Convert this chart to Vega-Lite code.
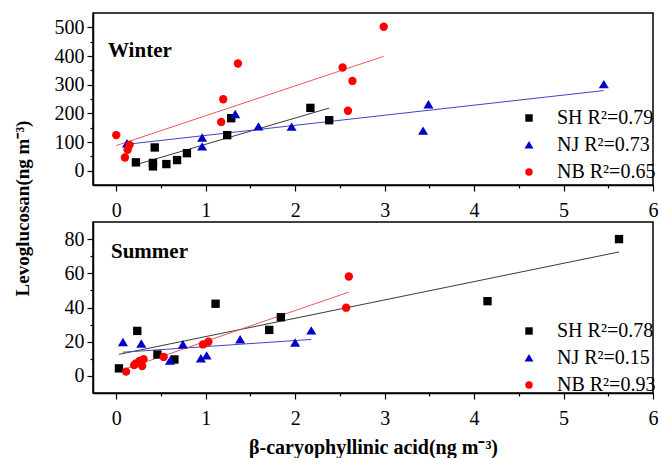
{
  "$schema": "https://vega.github.io/schema/vega-lite/v6.json",
  "padding": {"left": 12, "top": 12, "right": 5, "bottom": 2},
  "bounds": "flush",
  "spacing": 37,
  "config": {
    "font": "Liberation Serif",
    "view": {"stroke": "#000000", "strokeWidth": 1.5},
    "axis": {"domainColor": "#000000", "domainWidth": 1.5, "tickColor": "#000000", "tickWidth": 1.2, "labelFont": "Liberation Serif", "labelFontSize": 20, "labelColor": "#000000", "grid": false, "titleFont": "Liberation Serif", "titleFontSize": 20, "titleFontWeight": "bold", "titleColor": "#000000", "labelOverlap": false, "labelFlush": false, "labelPadding": 3},
    "axisX": {"labelPadding": 9},
    "legend": {"orient": "none", "padding": 0, "rowPadding": 7, "labelFont": "Liberation Serif", "labelFontSize": 20, "labelColor": "#000000", "symbolSize": 55, "labelOffset": 18, "symbolStrokeWidth": 0}
  },
  "datasets": {
    "winter": [
      {"site": "SH", "x": 0.22, "y": 29}, {"site": "SH", "x": 0.43, "y": 81}, {"site": "SH", "x": 0.41, "y": 27}, {"site": "SH", "x": 0.41, "y": 15}, {"site": "SH", "x": 0.56, "y": 23}, {"site": "SH", "x": 0.68, "y": 37}, {"site": "SH", "x": 0.79, "y": 61}, {"site": "SH", "x": 1.24, "y": 124}, {"site": "SH", "x": 1.285, "y": 183}, {"site": "SH", "x": 2.17, "y": 219}, {"site": "SH", "x": 2.38, "y": 176},
      {"site": "NJ", "x": 0.12, "y": 95}, {"site": "NJ", "x": 0.96, "y": 115}, {"site": "NJ", "x": 0.96, "y": 84}, {"site": "NJ", "x": 1.33, "y": 197}, {"site": "NJ", "x": 1.59, "y": 154}, {"site": "NJ", "x": 1.96, "y": 153}, {"site": "NJ", "x": 3.43, "y": 139}, {"site": "NJ", "x": 3.49, "y": 231}, {"site": "NJ", "x": 5.45, "y": 301},
      {"site": "NB", "x": 0.0, "y": 124}, {"site": "NB", "x": 0.097, "y": 46}, {"site": "NB", "x": 0.127, "y": 73}, {"site": "NB", "x": 0.149, "y": 90}, {"site": "NB", "x": 1.196, "y": 249}, {"site": "NB", "x": 1.173, "y": 170}, {"site": "NB", "x": 1.36, "y": 374}, {"site": "NB", "x": 2.53, "y": 360}, {"site": "NB", "x": 2.64, "y": 313}, {"site": "NB", "x": 2.59, "y": 209}, {"site": "NB", "x": 2.99, "y": 502}
    ],
    "summer": [
      {"site": "SH", "x": 0.03, "y": 4.4}, {"site": "SH", "x": 0.235, "y": 26.3}, {"site": "SH", "x": 0.46, "y": 12.5}, {"site": "SH", "x": 0.65, "y": 9.6}, {"site": "SH", "x": 1.11, "y": 42.2}, {"site": "SH", "x": 1.71, "y": 26.9}, {"site": "SH", "x": 1.84, "y": 34.3}, {"site": "SH", "x": 4.15, "y": 43.7}, {"site": "SH", "x": 5.62, "y": 80},
      {"site": "NJ", "x": 0.075, "y": 19.7}, {"site": "NJ", "x": 0.28, "y": 18.8}, {"site": "NJ", "x": 0.6, "y": 8.8}, {"site": "NJ", "x": 0.745, "y": 18.4}, {"site": "NJ", "x": 0.946, "y": 10.2}, {"site": "NJ", "x": 1.01, "y": 11.9}, {"site": "NJ", "x": 1.385, "y": 21.3}, {"site": "NJ", "x": 2.0, "y": 19.4}, {"site": "NJ", "x": 2.18, "y": 26.5},
      {"site": "NB", "x": 0.11, "y": 2.5}, {"site": "NB", "x": 0.2, "y": 6.3}, {"site": "NB", "x": 0.22, "y": 7.3}, {"site": "NB", "x": 0.26, "y": 8.8}, {"site": "NB", "x": 0.29, "y": 5.8}, {"site": "NB", "x": 0.305, "y": 9.8}, {"site": "NB", "x": 0.53, "y": 11.1}, {"site": "NB", "x": 0.97, "y": 18.4}, {"site": "NB", "x": 1.03, "y": 20}, {"site": "NB", "x": 2.57, "y": 39.9}, {"site": "NB", "x": 2.6, "y": 58.1}
    ]
  },
  "vconcat": [
    {
      "width": 560, "height": 172,
      "data": {"name": "winter"},
      "title": {"text": "Winter", "anchor": "start", "frame": "group", "offset": 0, "dx": 15, "dy": 65, "baseline": "alphabetic", "fontSize": 21, "fontWeight": "bold", "font": "Liberation Serif", "color": "#000000"},
      "encoding": {
        "x": {"field": "x", "type": "quantitative", "scale": {"domain": [-0.26, 6], "nice": false, "zero": false},
          "axis": {"values": [0, 0.5, 1, 1.5, 2, 2.5, 3, 3.5, 4, 4.5, 5, 5.5, 6], "labelExpr": "datum.value % 1 === 0 ? format(datum.value, 'd') : ''", "labelOverlap": false, "tickSize": {"condition": {"test": "datum.value % 1 === 0", "value": 6}, "value": 3}, "title": null}},
        "y": {"field": "y", "type": "quantitative", "scale": {"domain": [-50, 550], "nice": false, "zero": false},
          "axis": {"values": [0, 50, 100, 150, 200, 250, 300, 350, 400, 450, 500], "labelExpr": "datum.value % 100 === 0 ? format(datum.value, 'd') : ''", "labelOverlap": false, "tickSize": {"condition": {"test": "datum.value % 100 === 0", "value": 6}, "value": 3}, "title": "Levoglucosan(ng m⁻³)", "titleFontSize": 19, "titleX": -71, "titleY": 195, "titleAlign": "center", "titleBaseline": "middle", "titleAngle": 270}}
      },
      "layer": [
        {"transform": [{"filter": "datum.site === 'SH'"}, {"regression": "y", "on": "x"}], "mark": {"type": "line", "strokeWidth": 1, "color": "#3a3a3a"}},
        {"transform": [{"filter": "datum.site === 'NJ'"}, {"regression": "y", "on": "x"}], "mark": {"type": "line", "strokeWidth": 1, "color": "#4444c4"}},
        {"transform": [{"filter": "datum.site === 'NB'"}, {"regression": "y", "on": "x"}], "mark": {"type": "line", "strokeWidth": 1, "color": "#e25c5c"}},
        {
          "mark": {"type": "point", "filled": true, "opacity": 1, "size": 70, "strokeWidth": 0},
          "encoding": {
            "fill": {"field": "site", "type": "nominal", "scale": {"domain": ["SH", "NJ", "NB"], "range": ["#000000", "#0000c8", "#ff0000"]},
              "legend": {"title": null, "legendX": 426, "legendY": 95, "labelExpr": "datum.label === 'SH' ? 'SH R²=0.79' : datum.label === 'NJ' ? 'NJ R²=0.73' : 'NB R²=0.65'"}},
            "shape": {"field": "site", "type": "nominal", "scale": {"domain": ["SH", "NJ", "NB"], "range": ["square", "M0,-1.05L1.2,0.95L-1.2,0.95Z", "circle"]},
              "legend": {"title": null, "legendX": 426, "legendY": 95, "labelExpr": "datum.label === 'SH' ? 'SH R²=0.79' : datum.label === 'NJ' ? 'NJ R²=0.73' : 'NB R²=0.65'"}}
          }
        }
      ]
    },
    {
      "width": 560, "height": 171,
      "data": {"name": "summer"},
      "title": {"text": "Summer", "anchor": "start", "frame": "group", "offset": 0, "dx": 18, "dy": 57, "baseline": "alphabetic", "fontSize": 21, "fontWeight": "bold", "font": "Liberation Serif", "color": "#000000"},
      "encoding": {
        "x": {"field": "x", "type": "quantitative", "scale": {"domain": [-0.26, 6], "nice": false, "zero": false},
          "axis": {"values": [0, 0.5, 1, 1.5, 2, 2.5, 3, 3.5, 4, 4.5, 5, 5.5, 6], "labelExpr": "datum.value % 1 === 0 ? format(datum.value, 'd') : ''", "labelOverlap": false, "tickSize": {"condition": {"test": "datum.value % 1 === 0", "value": 6}, "value": 3}, "title": "β-caryophyllinic acid(ng m⁻³)", "titlePadding": 9}},
        "y": {"field": "y", "type": "quantitative", "scale": {"domain": [-10, 90], "nice": false, "zero": false},
          "axis": {"values": [0, 10, 20, 30, 40, 50, 60, 70, 80], "labelExpr": "datum.value % 20 === 0 ? format(datum.value, 'd') : ''", "labelOverlap": false, "tickSize": {"condition": {"test": "datum.value % 20 === 0", "value": 6}, "value": 3}, "title": null}}
      },
      "layer": [
        {"transform": [{"filter": "datum.site === 'SH'"}, {"regression": "y", "on": "x"}], "mark": {"type": "line", "strokeWidth": 1, "color": "#3a3a3a"}},
        {"transform": [{"filter": "datum.site === 'NJ'"}, {"regression": "y", "on": "x"}], "mark": {"type": "line", "strokeWidth": 1, "color": "#4444c4"}},
        {"transform": [{"filter": "datum.site === 'NB'"}, {"regression": "y", "on": "x"}], "mark": {"type": "line", "strokeWidth": 1, "color": "#e25c5c"}},
        {
          "mark": {"type": "point", "filled": true, "opacity": 1, "size": 70, "strokeWidth": 0},
          "encoding": {
            "fill": {"field": "site", "type": "nominal", "scale": {"domain": ["SH", "NJ", "NB"], "range": ["#000000", "#0000c8", "#ff0000"]},
              "legend": {"title": null, "legendX": 426, "legendY": 99, "labelExpr": "datum.label === 'SH' ? 'SH R²=0.78' : datum.label === 'NJ' ? 'NJ R²=0.15' : 'NB R²=0.93'"}},
            "shape": {"field": "site", "type": "nominal", "scale": {"domain": ["SH", "NJ", "NB"], "range": ["square", "M0,-1.05L1.2,0.95L-1.2,0.95Z", "circle"]},
              "legend": {"title": null, "legendX": 426, "legendY": 99, "labelExpr": "datum.label === 'SH' ? 'SH R²=0.78' : datum.label === 'NJ' ? 'NJ R²=0.15' : 'NB R²=0.93'"}}
          }
        }
      ]
    }
  ],
  "resolve": {"scale": {"x": "independent", "y": "independent", "fill": "independent", "shape": "independent"}, "legend": {"fill": "independent", "shape": "independent"}}
}
